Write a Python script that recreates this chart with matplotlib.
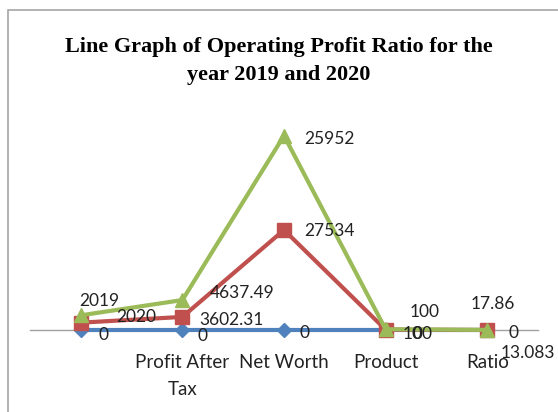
import numpy as np
import matplotlib
matplotlib.use('Agg')
import matplotlib.pyplot as plt
from matplotlib.patches import Rectangle

# data (stacked line chart, as in the spreadsheet)
categories = ['', 'Profit After\nTax', 'Net Worth', 'Product', 'Ratio']
series0 = [0, 0, 0, 0, 0]
series2020 = [2020, 3602.31, 27534, 100, 13.083]
series2019 = [2019, 4637.49, 25952, 100, 17.86]
labels0 = ['0', '0', '0', '0', '0']
labels2020 = ['2020', '3602.31', '27534', '100', '13.083']
labels2019 = ['2019', '4637.49', '25952', '100', '17.86']

blue = '#4F81BD'
red = '#C0504D'
green = '#9BBB59'

x = np.arange(len(categories))
s0 = np.array(series0, dtype=float)
s1 = s0 + np.array(series2020)
s2 = s1 + np.array(series2019)

fig = plt.figure(figsize=(5.58, 4.12), dpi=100)
fig.patches.append(Rectangle((8 / 558, -0.1), 1.2, (412 - 10) / 412 + 0.1,
                             transform=fig.transFigure, fill=False,
                             edgecolor='#A6A6A6', linewidth=1.2))

ax = fig.add_axes([30 / 558, (412 - 330) / 412, 508 / 558, 218 / 412])
ax.set_xlim(-0.5, 4.5)
ax.set_ylim(0, 60000)

ax.plot(x, s0, color=blue, lw=3, marker='D', ms=7, clip_on=False, zorder=3)
ax.plot(x, s1, color=red, lw=3, marker='s', ms=10, clip_on=False, zorder=4)
ax.plot(x, s2, color=green, lw=3, marker='^', ms=10, clip_on=False, zorder=5)

lab_font = dict(family='Lato', fontsize=12.5, color='#222222')
# label offsets in pixels
off0 = [(18, -5), (15, -6), (15, -3), (27, -4), (21, -3)]
off1 = [(35, 6), (17, -3), (20, -1), (17, -4), (13, -23)]
off2 = [(-2, 14), (27, 7), (20, -3), (24, 17), (-17, 26)]
for vals, labs, offs in [(s0, labels0, off0), (s1, labels2020, off1), (s2, labels2019, off2)]:
    for xi, yi, t, o in zip(x, vals, labs, offs):
        ax.annotate(t, (xi, yi), xytext=o, textcoords='offset pixels',
                    ha='left', va='center', zorder=6, **lab_font)

for side in ['left', 'right', 'top']:
    ax.spines[side].set_visible(False)
ax.spines['bottom'].set_color('#A0A0A0')
ax.spines['bottom'].set_linewidth(1)
ax.set_yticks([])
ax.set_xticks(x)
ax.set_xticklabels(categories, linespacing=1.75, family='Lato', fontsize=13.5, color='#222222')
ax.tick_params(axis='x', length=0, pad=17)

fig.text(0.5, 1 - 47 / 412, 'Line Graph of Operating Profit Ratio for the',
         ha='center', va='center', family='Liberation Serif', fontweight='bold', fontsize=16)
fig.text(0.5, 1 - 75 / 412, 'year 2019 and 2020',
         ha='center', va='center', family='Liberation Serif', fontweight='bold', fontsize=16)

fig.savefig('out.png', dpi=100)
